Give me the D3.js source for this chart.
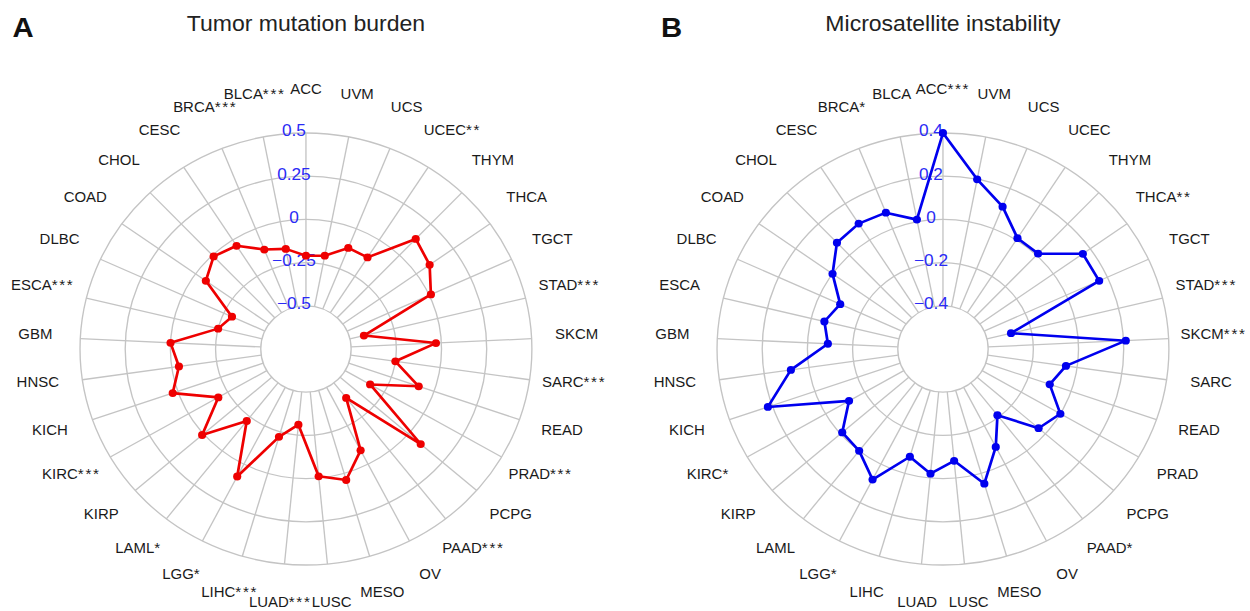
<!DOCTYPE html>
<html>
<head>
<meta charset="utf-8">
<script src="https://cdn.jsdelivr.net/npm/d3@7"></script>
<style>
  html, body { margin: 0; padding: 0; background: #ffffff; }
  svg { display: block; }
  text { font-family: "Liberation Sans", Arial, Helvetica, sans-serif; }
</style>
</head>
<body>
<svg id="chart" width="1250" height="611"></svg>
<script>
// ---- data ----
const categories = ["ACC","UVM","UCS","UCEC","THYM","THCA","TGCT","STAD","SKCM","SARC","READ","PRAD","PCPG","PAAD","OV","MESO","LUSC","LUAD","LIHC","LGG","LAML","KIRP","KIRC","KICH","HNSC","GBM","ESCA","DLBC","COAD","CHOL","CESC","BRCA","BLCA"];

const labelsA = ["ACC","UVM","UCS","UCEC**","THYM","THCA","TGCT","STAD***","SKCM","SARC***","READ","PRAD***","PCPG","PAAD***","OV","MESO","LUSC","LUAD***","LIHC***","LGG*","LAML*","KIRP","KIRC***","KICH","HNSC","GBM","ESCA***","DLBC","COAD","CHOL","CESC","BRCA***","BLCA***"];
const labelsB = ["ACC***","UVM","UCS","UCEC","THYM","THCA**","TGCT","STAD***","SKCM***","SARC","READ","PRAD","PCPG","PAAD*","OV","MESO","LUSC","LUAD","LIHC","LGG*","LAML","KIRP","KIRC*","KICH","HNSC","GBM","ESCA","DLBC","COAD","CHOL","CESC","BRCA*","BLCA"];

const tmbValues = [-0.21,-0.20,-0.12,-0.12,0.13,0.09,0.01,-0.42,-0.03,-0.25,-0.09,-0.34,0.09,-0.39,-0.09,0.04,-0.01,-0.31,-0.22,0.08,-0.22,0.01,-0.19,0.03,-0.04,0.00,-0.25,-0.30,-0.07,-0.01,-0.04,-0.13,-0.16];
const msiValues = [0.40,0.20,0.11,0.01,0.01,0.16,0.16,-0.29,0.21,-0.05,-0.10,0.00,-0.04,-0.21,-0.09,0.05,-0.08,-0.02,-0.08,0.08,0.00,-0.01,-0.12,0.22,0.08,-0.09,-0.06,-0.10,0.00,0.08,0.09,0.08,0.01];

const ticksA = [-0.5,-0.25,0,0.25,0.5];
const tickLabelsA = ["\u22120.5","\u22120.25","0","0.25","0.5"];
const ticksB = [-0.4,-0.2,0,0.2,0.4];
const tickLabelsB = ["\u22120.4","\u22120.2","0","0.2","0.4"];

const titles = ["Tumor mutation burden","Microsatellite instability"];
const panelLetters = ["A","B"];

// ---- layout ----
const stretch = 1.046;
const svg = d3.select("#chart");
const root = svg.append("g").attr("transform", `scale(${stretch},1)`);

const R = 216;
const cy = 349;

function drawPanel(opts) {
  const {cx, domainMin, ticks, tickLabels, values, labels, color, title, letter, letterX} = opts;
  const r = d3.scaleLinear().domain([domainMin, ticks[ticks.length-1]]).range([0, R]);
  const angle = d3.scaleBand().domain(categories).range([0, 2*Math.PI]).align(0);
  const ang = c => angle(c);

  const g = root.append("g").attr("transform", `translate(${cx},${cy})`);

  // letter and title
  root.append("text").attr("x", letterX).attr("y", 37)
    .attr("font-size", 28).attr("font-weight", "bold").attr("fill", "#111")
    .text(letter);
  root.append("text").attr("x", cx).attr("y", 31)
    .attr("text-anchor", "middle").attr("font-size", 22).attr("fill", "#222")
    .text(title);

  // inner white disk
  g.append("circle").attr("r", r(ticks[0])).attr("fill", "#fff");

  // spokes
  g.selectAll("line.spoke").data(categories).join("line")
    .attr("class", "spoke")
    .attr("x1", c => r(ticks[0]) * Math.sin(ang(c)))
    .attr("y1", c => -r(ticks[0]) * Math.cos(ang(c)))
    .attr("x2", c => r(ticks[ticks.length-1]) * Math.sin(ang(c)))
    .attr("y2", c => -r(ticks[ticks.length-1]) * Math.cos(ang(c)))
    .attr("stroke", "#c4c4c4").attr("stroke-width", 1.3);

  // rings
  g.selectAll("circle.ring").data(ticks).join("circle")
    .attr("class", "ring")
    .attr("r", d => r(d))
    .attr("fill", "none").attr("stroke", "#c4c4c4").attr("stroke-width", 1.3);

  // tick labels
  g.selectAll("text.tick").data(ticks).join("text")
    .attr("class", "tick")
    .attr("x", -11.5).attr("y", d => -r(d) - 2)
    .attr("text-anchor", "middle").attr("dominant-baseline", "central")
    .attr("font-size", 16.5).attr("fill", "#2a2af5")
    .text((d, i) => tickLabels[i]);

  // category labels (name + significance stars)
  const cat = g.selectAll("text.cat").data(categories).join("text")
    .attr("class", "cat")
    .attr("x", c => 259 * Math.sin(ang(c)))
    .attr("y", c => -257 * Math.cos(ang(c)) - 3)
    .attr("text-anchor", "middle").attr("dominant-baseline", "central")
    .attr("font-size", 14.3).attr("fill", "#1a1a1a");
  cat.append("tspan").text((c, i) => labels[i].replace(/\*+$/, ""));
  cat.append("tspan")
    .attr("font-size", 14.5)
    .attr("letter-spacing", 1.6)
    .text((c, i) => (labels[i].match(/\*+$/) || [""])[0]);

  // data line
  const pts = categories.map((c, i) => ({c, v: values[i]}));
  const line = d3.lineRadial()
    .angle(d => ang(d.c))
    .radius(d => r(d.v))
    .curve(d3.curveLinearClosed);
  g.append("path").datum(pts)
    .attr("d", line)
    .attr("fill", "none").attr("stroke", color).attr("stroke-width", 2.6)
    .attr("stroke-linejoin", "round");

  g.selectAll("circle.pt").data(pts).join("circle")
    .attr("class", "pt")
    .attr("cx", d => r(d.v) * Math.sin(ang(d.c)))
    .attr("cy", d => -r(d.v) * Math.cos(ang(d.c)))
    .attr("r", 3.9).attr("fill", color);
}

drawPanel({cx: 292.5, domainMin: -0.75, ticks: ticksA, tickLabels: tickLabelsA,
  values: tmbValues, labels: labelsA, color: "#ee0000", title: titles[0], letter: panelLetters[0], letterX: 12});
drawPanel({cx: 901.5, domainMin: -0.6, ticks: ticksB, tickLabels: tickLabelsB,
  values: msiValues, labels: labelsB, color: "#0000ee", title: titles[1], letter: panelLetters[1], letterX: 632});
</script>
</body>
</html>
